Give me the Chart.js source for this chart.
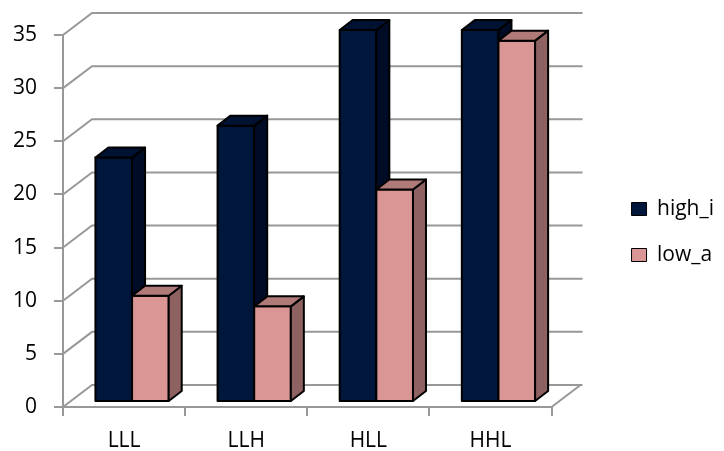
<!DOCTYPE html>
<html>
<head>
<meta charset="utf-8">
<script src="https://cdn.jsdelivr.net/npm/chart.js@4.4.0/dist/chart.umd.min.js"></script>
<style>
  html, body { margin: 0; padding: 0; background: #fff; }
  #c { display: block; }
</style>
</head>
<body>
<canvas id="c" width="724" height="451"></canvas>
<script>
// Data
const categories = ['LLL', 'LLH', 'HLL', 'HHL'];
const highI = [23, 26, 35, 35];
const lowA = [10, 9, 20, 34];
const seriesNames = ['high_i', 'low_a'];
const yMin = 0, yMax = 35, yStep = 5;

// Styling
const GRID = '#989898';
const FONT = { family: '"Open Sans", "DejaVu Sans", sans-serif', size: 21 };
const WALL = { dx: 29, dy: -22 };      // depth of the back wall
const BAR_SHIFT = { dx: 8, dy: -5 };   // bars sit a little behind the front plane
const BAR_DEPTH = { dx: 13, dy: -10 }; // thickness of each column
const FACES = [
  { front: '#00163a', side: '#000c25', top: '#001232' },
  { front: '#d99694', side: '#8e6261', top: '#b07a78' }
];

function poly(ctx, pts, fill) {
  ctx.beginPath();
  ctx.moveTo(pts[0][0], pts[0][1]);
  for (let i = 1; i < pts.length; i++) ctx.lineTo(pts[i][0], pts[i][1]);
  ctx.closePath();
  ctx.fillStyle = fill;
  ctx.fill();
  ctx.stroke();
}

function drawColumn(ctx, x0, x1, yt, yb, c) {
  const dx = BAR_DEPTH.dx, dy = BAR_DEPTH.dy;
  poly(ctx, [[x0, yt], [x1, yt], [x1, yb], [x0, yb]], c.front);
  poly(ctx, [[x1, yb], [x1, yt], [x1 + dx, yt + dy], [x1 + dx, yb + dy]], c.side);
  poly(ctx, [[x0, yt], [x1, yt], [x1 + dx, yt + dy], [x0 + dx, yt + dy]], c.top);
}

// Back/side walls and 3-D columns
const threeD = {
  id: 'threeD',
  beforeDatasetsDraw(chart) {
    const { ctx, chartArea } = chart;
    const y = chart.scales.y;
    const l = chartArea.left, r = chartArea.right;
    ctx.save();
    ctx.strokeStyle = GRID;
    ctx.lineWidth = 2;
    y.ticks.forEach(t => {
      const py = y.getPixelForValue(t.value);
      ctx.beginPath();
      ctx.moveTo(l, py);
      ctx.lineTo(l + WALL.dx, py + WALL.dy);
      ctx.lineTo(r + WALL.dx + 2, py + WALL.dy);
      ctx.stroke();
    });
    const p0 = y.getPixelForValue(0);
    ctx.beginPath();
    ctx.moveTo(r, p0);
    ctx.lineTo(r + WALL.dx, p0 + WALL.dy);
    ctx.stroke();

    ctx.strokeStyle = '#000';
    ctx.lineWidth = 2;
    ctx.lineJoin = 'round';
    const metas = chart.getSortedVisibleDatasetMetas();
    for (let i = 0; i < categories.length; i++) {
      metas.forEach((meta, di) => {
        const el = meta.data[i];
        const p = el.getProps(['x', 'y', 'base', 'width'], true);
        const x0 = p.x - p.width / 2 + BAR_SHIFT.dx;
        const x1 = p.x + p.width / 2 + BAR_SHIFT.dx;
        drawColumn(ctx, x0, x1, p.y + BAR_SHIFT.dy, p.base + BAR_SHIFT.dy, FACES[di]);
      });
    }
    ctx.restore();
    return false;
  }
};

new Chart(document.getElementById('c'), {
  type: 'bar',
  data: {
    labels: categories,
    datasets: [
      { label: seriesNames[0], data: highI, backgroundColor: FACES[0].front, borderColor: '#000', borderWidth: 1,
        categoryPercentage: 0.6, barPercentage: 1 },
      { label: seriesNames[1], data: lowA, backgroundColor: FACES[1].front, borderColor: '#000', borderWidth: 1,
        categoryPercentage: 0.6, barPercentage: 1 }
    ]
  },
  options: {
    responsive: false,
    animation: false,
    devicePixelRatio: 1,
    layout: { padding: { top: 13, left: 0, right: 0, bottom: 0 } },
    plugins: {
      legend: {
        position: 'right',
        labels: { boxWidth: 15, boxHeight: 13, padding: 25, color: '#000', font: FONT }
      },
      tooltip: { enabled: false }
    },
    scales: {
      x: {
        grid: { offset: true, drawOnChartArea: false, tickLength: 9, color: GRID, lineWidth: 2 },
        border: { color: GRID, width: 2 },
        ticks: { color: '#000', font: FONT, padding: 12 },
        afterFit: s => { s.height = 44; }
      },
      y: {
        min: yMin, max: yMax,
        ticks: { stepSize: yStep, color: '#000', font: FONT, padding: 17 },
        grid: { drawOnChartArea: false, tickLength: 9, color: GRID, lineWidth: 2 },
        border: { color: GRID, width: 2 },
        afterFit: s => { s.width = 63; }
      },
      xTop: {
        type: 'linear', position: 'top',
        grid: { display: false }, ticks: { display: false }, border: { display: false },
        afterFit: s => { s.height = 22; }
      },
      yRight: {
        type: 'linear', position: 'right',
        grid: { display: false }, ticks: { display: false }, border: { display: false },
        afterFit: s => { s.width = 55; }
      }
    }
  },
  plugins: [threeD]
});
</script>
</body>
</html>
